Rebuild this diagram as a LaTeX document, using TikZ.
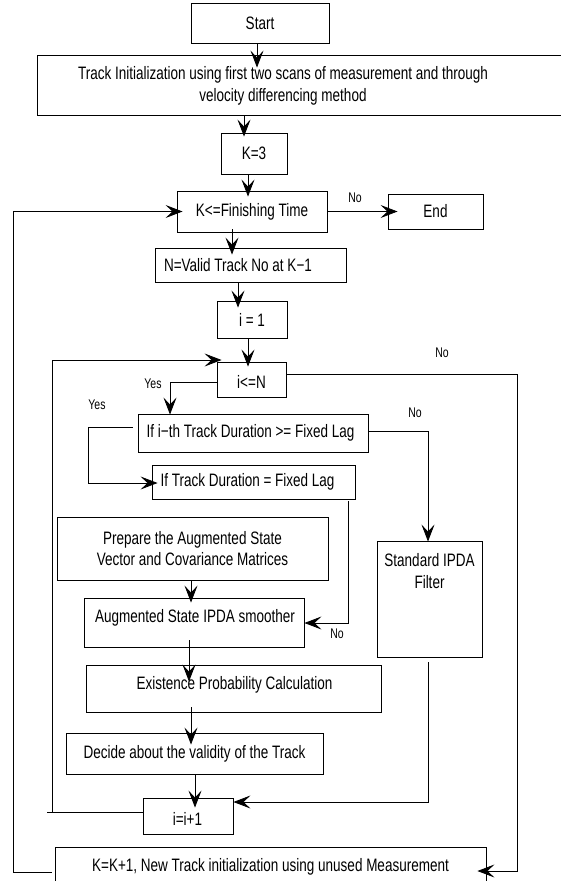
\documentclass[tikz,border=0pt]{standalone}
\usepackage{fontspec}
\setmainfont{Liberation Sans}[FakeStretch=0.75]
\usetikzlibrary{arrows.meta}
\begin{document}
\begin{tikzpicture}[x=1pt,y=-1pt,
 box/.style={draw, line width=0.9pt, inner sep=0pt, font=\fontsize{18}{21.6}\selectfont},
 txt/.style={inner sep=0pt, font=\fontsize{18}{21.6}\selectfont},
 lbl/.style={inner sep=0pt, font=\fontsize{14}{16}\selectfont},
 ln/.style={line width=0.8pt},
 arr/.style={ln, -{Stealth[length=17pt,width=13pt,inset=7pt]}}]
\useasboundingbox (0,0) rectangle (561,881);
\clip (0,0) rectangle (561,881);
% boxes
\node[box, minimum width=138, minimum height=40] (start) at (260,23) {Start};
\node[box, minimum width=545, minimum height=60] (init) at (309.5,85) {};
\node[txt, align=center] (initT) at (283,86) {Track Initialization using first two scans of measurement and through\\velocity differencing method};
\node[box, minimum width=66, minimum height=41] (k3) at (254,153.5) {K=3};
\node[box, minimum width=150, minimum height=41] (kfin) at (252,211.5) {K<=Finishing Time};
\node[box, minimum width=95, minimum height=35] (endn) at (435.5,211.5) {End};
\node[box, minimum width=191, minimum height=34] (nval) at (250.5,265) {};
\node[txt] (nvalT) at (238,265) {N=Valid Track No at K−1};
\node[box, minimum width=70, minimum height=37] (ione) at (252,319.5) {i = 1};
\node[box, minimum width=69, minimum height=35] (ilen) at (251.5,379.5) {};
\node[txt] (ilenT) at (251.5,382) {i<=N};
\node[box, minimum width=230, minimum height=38] (ith) at (253,433) {};
\node[txt] (ithT) at (250.5,433) {If i−th Track Duration >= Fixed Lag};
\node[box, minimum width=203, minimum height=34] (itd) at (253.5,482) {};
\node[txt] (itdT) at (247.5,482) {If Track Duration = Fixed Lag};
\node[box, minimum width=271, minimum height=63, align=center] (prep) at (192.5,548.5) {Prepare the Augmented State\\Vector and Covariance Matrices};
\node[box, minimum width=105, minimum height=116] (std) at (429.5,599) {};
\node[txt, align=center] (stdT) at (429.5,571) {Standard IPDA\\Filter};
\node[box, minimum width=220, minimum height=49] (aug) at (194,622.5) {};
\node[txt] (augT) at (195,618) {Augmented State IPDA smoother};
\node[box, minimum width=295, minimum height=47] (exist) at (233.5,688.5) {};
\node[txt] (existT) at (234.5,685) {Existence Probability Calculation};
\node[box, minimum width=257, minimum height=41] (dec) at (194.5,753.5) {Decide about the validity of the Track};
\node[box, minimum width=90, minimum height=36] (iinc) at (188,816) {};
\node[txt] (iincT) at (187.5,819) {i=i+1};
\node[box, minimum width=431, minimum height=40] (kk) at (270.5,867) {K=K+1, New Track initialization using unused Measurement};
% labels
\node[lbl] (no1) at (355,198) {No};
\node[lbl] (no2) at (442,353) {No};
\node[lbl] (yes1) at (153,384) {Yes};
\node[lbl] (yes2) at (97,405) {Yes};
\node[lbl] (no3) at (415,413) {No};
\node[lbl] (no4) at (337,634) {No};
% lanes
\coordinate (xs) at (257,0);
\coordinate (xi) at (244,0);
\coordinate (xk) at (248,0);
\coordinate (xf) at (232,0);
\coordinate (xn) at (238,0);
\coordinate (xout) at (13,0);
\coordinate (yk) at (0,872);
\coordinate (xin) at (52,0);
\coordinate (xin2) at (47,0);
\coordinate (yl) at (0,812);
\coordinate (yin) at (0,360);
\coordinate (xr) at (517,0);
\coordinate (yno) at (0,374);
\coordinate (yr) at (0,871);
\coordinate (xy) at (170,0);
\coordinate (yy) at (0,382);
\coordinate (xf2) at (88,0);
\coordinate (yi) at (0,427);
\coordinate (yd) at (0,483);
\coordinate (xno) at (428,0);
\coordinate (yir) at (0,431);
\coordinate (xdu) at (348,0);
\coordinate (ya) at (0,623);
\coordinate (xp) at (191,0);
\coordinate (xa) at (189,0);
\coordinate (xd) at (195,0);
\coordinate (ys) at (0,802);
% connectors
\draw[arr, shorten >=-13pt] (start.south -| xs) -- (init.north -| xs);
\draw[arr, shorten >=-4pt] (init.south -| xi) -- (k3.north -| xi);
\draw[arr, shorten >=-6pt] (k3.south -| xk) -- (kfin.north -| xk);
\draw[arr, shorten >=-7pt, shorten <=-3pt] (kfin.south -| xf) -- (nval.north -| xf);
\draw[arr, shorten >=-7pt] (nval.south -| xn) -- (ione.north -| xn);
\draw[arr, shorten >=-5pt] (ione.south -| xk) -- (ilen.north -| xk);
\draw[arr, shorten >=-10pt] (kfin.east) -- (endn.west);
\draw[arr, shorten <=3pt, shorten >=-6pt] (kk.west |- yk) -- (xout |- yk) -- (xout |- kfin.west) -- (kfin.west);
\draw[ln] (iinc.west |- yl) -- (xin2 |- yl);
\draw[arr, shorten >=-5pt] (xin |- yl) -- (xin |- yin) -- (ilen.west |- yin);
\draw[arr, shorten >=-9pt] (ilen.east |- yno) -- (xr |- yno) -- (xr |- yr) -- (kk.east |- yr);
\draw[arr, shorten >=-1pt] (ilen.west |- yy) -- (xy |- yy) -- (ith.north -| xy);
\draw[arr, shorten <=5pt, shorten >=-6pt] (ith.west |- yi) -- (xf2 |- yi) -- (xf2 |- yd) -- (itd.west |- yd);
\draw[arr, shorten >=-1pt] (ith.east |- yir) -- (xno |- yir) -- (std.north -| xno);
\draw[arr, shorten <=2pt] (itd.south -| xdu) -- (xdu |- ya) -- (aug.east |- ya);
\draw[arr, shorten >=-5pt] (prep.south -| xp) -- (aug.north -| xp);
\draw[arr, shorten <=-7pt, shorten >=-17pt] (aug.south -| xa) -- (exist.north -| xa);
\draw[arr, shorten <=-5pt, shorten >=-12pt] (exist.south -| xp) -- (dec.north -| xp);
\draw[arr, shorten >=-10pt] (dec.south -| xd) -- (iinc.north -| xd);
\draw[arr, shorten <=5pt] (std.south -| xno) -- (xno |- ys) -- (iinc.east |- ys);
\end{tikzpicture}
\end{document}
